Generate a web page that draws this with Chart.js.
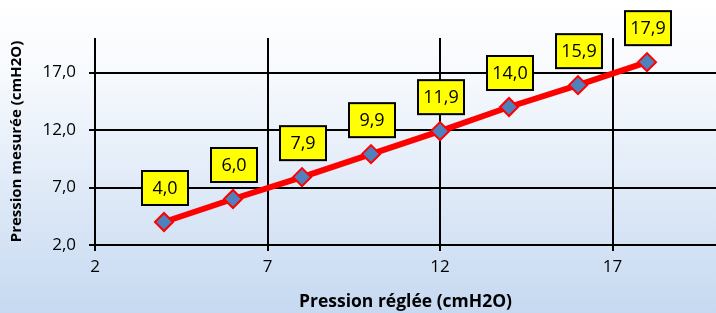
<!DOCTYPE html>
<html>
<head>
<meta charset="utf-8">
<script src="https://cdn.jsdelivr.net/npm/chart.js@4"></script>
<style>
  html, body { margin: 0; padding: 0; }
  body { width: 716px; height: 313px; background: linear-gradient(to bottom, #ffffff 0%, #f6f9fd 25%, #c6d9f1 100%); }
  #wrap { width: 716px; height: 313px; }
</style>
</head>
<body>
<div id="wrap"><canvas id="chart"></canvas></div>
<script>
const reglee = [4, 6, 8, 10, 12, 14, 16, 18];
const mesuree = [4.0, 6.0, 7.9, 9.9, 11.9, 14.0, 15.9, 17.9];
const xTicks = [2, 7, 12, 17];
const yTicks = [2, 7, 12, 17];

const fontFamily = '"Open Sans", sans-serif';

// yellow boxed value labels above each point
const valueLabels = {
    id: 'valueLabels',
    afterDatasetsDraw(chart) {
        const ctx = chart.ctx;
        const meta = chart.getDatasetMeta(0);
        ctx.save();
        ctx.font = '18px ' + fontFamily;
        ctx.textAlign = 'center';
        ctx.textBaseline = 'middle';
        meta.data.forEach((pt, i) => {
            const txt = mesuree[i].toFixed(1).replace('.', ',');
            const w = 46, h = 34;
            const cx = pt.x + 1, cy = pt.y - 34;
            ctx.fillStyle = '#ffff00';
            ctx.fillRect(cx - w / 2, cy - h / 2, w, h);
            ctx.lineWidth = 2;
            ctx.strokeStyle = '#000000';
            ctx.strokeRect(cx - w / 2, cy - h / 2, w, h);
            ctx.fillStyle = '#000000';
            ctx.fillText(txt, cx, cy + 1);
        });
        ctx.restore();
    }
};

new Chart(document.getElementById('chart'), {
    type: 'scatter',
    data: {
        datasets: [{
            data: reglee.map((x, i) => ({ x: x, y: mesuree[i] })),
            showLine: true,
            borderColor: '#ff0000',
            borderWidth: 6,
            pointStyle: 'rectRot',
            pointRadius: 9,
            pointHoverRadius: 9,
            pointBackgroundColor: '#4f81bd',
            pointBorderColor: '#ff0000',
            pointBorderWidth: 2
        }]
    },
    options: {
        responsive: true,
        maintainAspectRatio: false,
        animation: false,
        layout: { autoPadding: false, padding: { top: 38, right: 0, left: 0, bottom: 0 } },
        plugins: {
            legend: { display: false },
            tooltip: { enabled: false }
        },
        scales: {
            x: {
                type: 'linear',
                min: 2,
                max: 20,
                afterBuildTicks: axis => { axis.ticks = xTicks.map(v => ({ value: v })); },
                afterFit: axis => { axis.height = 68; axis.paddingLeft = 0; axis.paddingRight = 0; },
                grid: { color: '#000000', lineWidth: 2, tickLength: 6 },
                border: { display: false },
                ticks: { color: '#000000', font: { family: fontFamily, size: 17 }, padding: 6 },
                title: {
                    display: true,
                    text: 'Pression réglée (cmH2O)',
                    color: '#000000',
                    font: { family: fontFamily, size: 17.5, weight: 'bold' },
                    padding: { top: 0, bottom: 0 }
                }
            },
            y: {
                type: 'linear',
                min: 2,
                max: 20,
                afterBuildTicks: axis => { axis.ticks = yTicks.map(v => ({ value: v })); },
                afterFit: axis => { axis.width = 95; axis.paddingTop = 0; axis.paddingBottom = 0; },
                grid: { color: '#000000', lineWidth: 2, tickLength: 6 },
                border: { display: false },
                ticks: {
                    color: '#000000',
                    font: { family: fontFamily, size: 17 },
                    padding: 13,
                    callback: v => v.toFixed(1).replace('.', ',')
                },
                title: {
                    display: true,
                    text: 'Pression mesurée (cmH2O)',
                    color: '#000000',
                    font: { family: fontFamily, size: 15, weight: 'bold' },
                    padding: { top: 8, bottom: 0 }
                }
            }
        }
    },
    plugins: [valueLabels]
});
</script>
</body>
</html>
